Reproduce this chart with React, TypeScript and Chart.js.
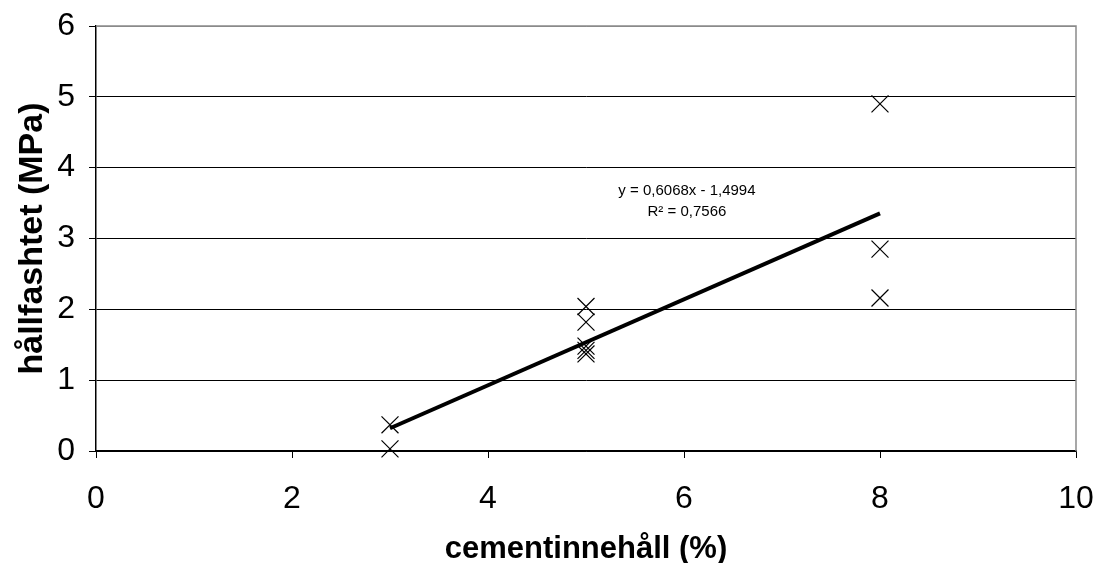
import React, { useEffect, useRef } from "react";
import { Chart, registerables } from "chart.js";

Chart.register(...registerables);

// Cement content (%) and measured strength (MPa) per specimen
const cementContent = [3, 3, 5, 5, 5, 5, 5, 8, 8, 8];
const strengthMPa = [0.37, 0.03, 2.04, 1.82, 1.48, 1.42, 1.37, 4.9, 2.85, 2.16];

// Linear trend line coefficients and goodness of fit
const trendSlope = [0.6068];
const trendIntercept = [-1.4994];
const trendR2 = [0.7566];

const xTicks = [0, 2, 4, 6, 8, 10];
const yTicks = [0, 1, 2, 3, 4, 5, 6];

const xTitle = "cementinnehåll (%)";
const yTitle = "hållfashtet (MPa)";

const FONT = "'Liberation Sans', Arial, sans-serif";

// Plot frame edges inside the canvas
const FRAME = { left: 96, right: 1076, top: 26, bottom: 451 };

const fmt = (v: number) => Math.abs(v).toFixed(4).replace(".", ",");

const trendLabelPlugin = {
  id: "trendLabel",
  afterDatasetsDraw(chart: any) {
    const { ctx, scales } = chart;
    const cx = scales.x.getPixelForValue(6.03);
    const cy = scales.y.getPixelForValue(3.67);
    const slope = trendSlope[0];
    const icpt = trendIntercept[0];
    const line1 = `y = ${fmt(slope)}x ${icpt < 0 ? "-" : "+"} ${fmt(icpt)}`;
    const line2 = `R² = ${fmt(trendR2[0])}`;
    ctx.save();
    ctx.fillStyle = "#000";
    ctx.font = `15px ${FONT}`;
    ctx.textAlign = "center";
    ctx.textBaseline = "middle";
    ctx.fillText(line1, cx, cy);
    ctx.fillText(line2, cx, cy + 21);
    ctx.restore();
  },
};

const frameBorderPlugin = {
  id: "frameBorder",
  beforeDatasetsDraw(chart: any) {
    const { ctx, chartArea } = chart;
    ctx.save();
    ctx.strokeStyle = "#8a8a8a";
    ctx.lineWidth = 1.5;
    ctx.beginPath();
    ctx.moveTo(chartArea.left, chartArea.top);
    ctx.lineTo(chartArea.right, chartArea.top);
    ctx.lineTo(chartArea.right, chartArea.bottom);
    ctx.stroke();
    ctx.restore();
  },
};

// Pin the chart area to the frame edges regardless of label overflow
const fixedAreaPlugin = {
  id: "fixedArea",
  afterLayout(chart: any) {
    const { x, y } = chart.scales;
    const ca = chart.chartArea;
    ca.left = FRAME.left;
    ca.right = FRAME.right;
    ca.top = FRAME.top;
    ca.bottom = FRAME.bottom;
    ca.width = FRAME.right - FRAME.left;
    ca.height = FRAME.bottom - FRAME.top;
    x.left = FRAME.left;
    x.right = FRAME.right;
    x.width = ca.width;
    x.top = FRAME.bottom;
    x.bottom = chart.height;
    x.height = chart.height - FRAME.bottom;
    y.left = 0;
    y.right = FRAME.left;
    y.width = FRAME.left;
    y.top = FRAME.top;
    y.bottom = FRAME.bottom;
    y.height = ca.height;
    x.configure();
    y.configure();
  },
};

export default function App() {
  const canvasRef = useRef<HTMLCanvasElement | null>(null);

  useEffect(() => {
    if (!canvasRef.current) return;
    const points = cementContent.map((x, i) => ({ x, y: strengthMPa[i] }));
    const xMin = Math.min(...cementContent);
    const xMax = Math.max(...cementContent);
    const trend = [xMin, xMax].map((x) => ({ x, y: trendSlope[0] * x + trendIntercept[0] }));

    const chart = new Chart(canvasRef.current, {
      type: "scatter",
      data: {
        datasets: [
          {
            type: "line",
            label: "trend",
            data: trend,
            borderColor: "#000",
            borderWidth: 4,
            pointRadius: 0,
            fill: false,
            order: 1,
          } as any,
          {
            label: "hållfasthet",
            data: points,
            pointStyle: "crossRot",
            pointRadius: 12,
            borderColor: "#000",
            backgroundColor: "#000",
            pointBorderWidth: 1.2,
            clip: false,
            order: 2,
          } as any,
        ],
      },
      plugins: [fixedAreaPlugin, frameBorderPlugin, trendLabelPlugin],
      options: {
        animation: false,
        responsive: false,
        layout: { padding: 0 },
        plugins: { legend: { display: false }, tooltip: { enabled: false } },
        scales: {
          x: {
            type: "linear",
            min: 0,
            max: 10,
            afterBuildTicks: (s: any) => {
              s.ticks = xTicks.map((v) => ({ value: v }));
            },
            grid: {
              drawOnChartArea: false,
              drawTicks: true,
              tickLength: 7,
              tickColor: "#000",
              tickWidth: 1,
            },
            border: { display: true, color: "#000", width: 1.5 },
            ticks: {
              color: "#000",
              font: { family: FONT, size: 32 },
              padding: 22,
              maxRotation: 0,
            },
            title: {
              display: true,
              text: xTitle,
              color: "#000",
              font: { family: FONT, size: 31, weight: "bold", lineHeight: 0.9 },
              padding: 0,
            },
          },
          y: {
            type: "linear",
            min: 0,
            max: 6,
            afterBuildTicks: (s: any) => {
              s.ticks = yTicks.map((v) => ({ value: v }));
            },
            grid: {
              color: (c: any) => (c.tick && c.tick.value === 6 ? "#8a8a8a" : "#000"),
              lineWidth: 1,
              drawTicks: true,
              tickLength: 7,
              tickColor: "#000",
            },
            border: { display: true, color: "#000", width: 1.5 },
            ticks: {
              color: "#000",
              font: { family: FONT, size: 32 },
              padding: 14,
            },
            title: {
              display: true,
              text: yTitle,
              color: "#000",
              font: { family: FONT, size: 34, weight: "bold" },
              padding: 12,
            },
          },
        },
      } as any,
    });
    return () => chart.destroy();
  }, []);

  return (
    <div style={{ position: "absolute", left: 0, top: 0, width: 1093, height: 563, background: "#fff" }}>
      <canvas ref={canvasRef} width={1093} height={563} />
    </div>
  );
}
